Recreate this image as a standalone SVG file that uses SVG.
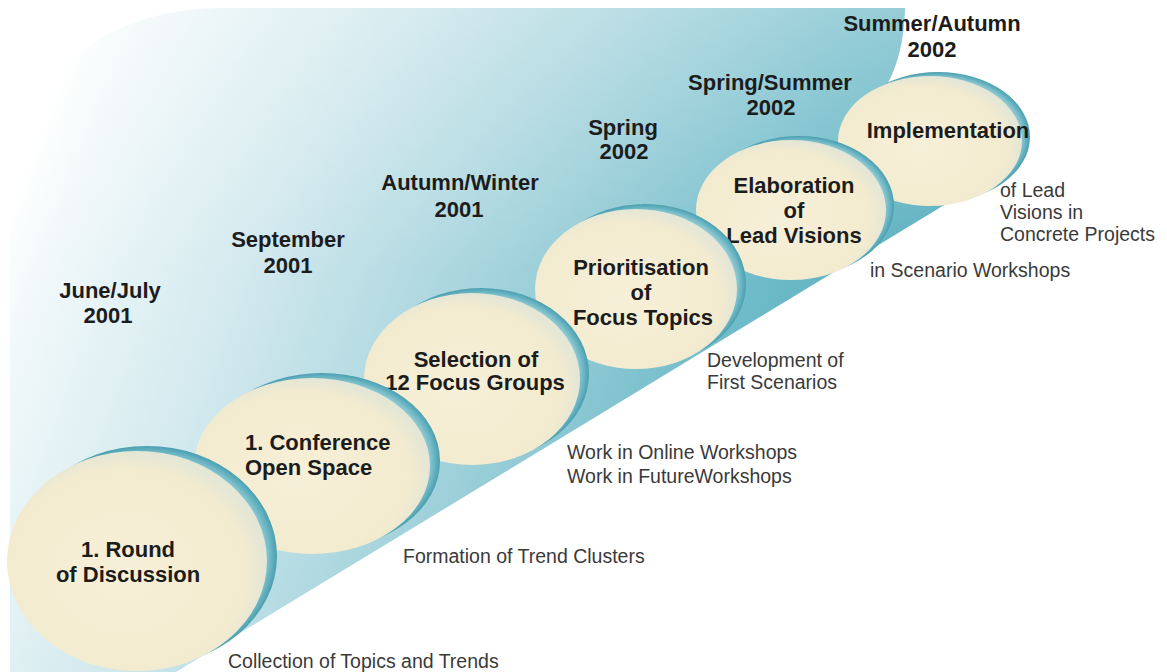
<svg xmlns="http://www.w3.org/2000/svg" width="1167" height="672" viewBox="0 0 1167 672">
  <defs>
    <linearGradient id="bg" x1="0" y1="0.3" x2="1" y2="0.55">
      <stop offset="0" stop-color="#ffffff"/>
      <stop offset="0.05" stop-color="#f2f9fa"/>
      <stop offset="0.25" stop-color="#d2e9ee"/>
      <stop offset="0.5" stop-color="#a2d2db"/>
      <stop offset="0.75" stop-color="#6dbac8"/>
      <stop offset="1" stop-color="#4fa8b8"/>
    </linearGradient>
    <linearGradient id="topfade" x1="0" y1="0" x2="0" y2="1">
      <stop offset="0" stop-color="#ffffff" stop-opacity="0.3"/>
      <stop offset="0.4" stop-color="#ffffff" stop-opacity="0"/>
    </linearGradient>
    <radialGradient id="face" cx="0.45" cy="0.55" r="0.55">
      <stop offset="0" stop-color="#f7f0d8"/>
      <stop offset="0.85" stop-color="#f3ebcf"/>
      <stop offset="1" stop-color="#e4e6d6"/>
    </radialGradient>
    <radialGradient id="rim" cx="0.5" cy="0.5" r="0.5">
      <stop offset="0.82" stop-color="#d3e9e8"/>
      <stop offset="0.94" stop-color="#74bbc8"/>
      <stop offset="1" stop-color="#4a9fb0"/>
    </radialGradient>
    <style>
      .face { fill: url(#face); }
      .rim { fill: url(#rim); }
      .lbl { font-family: "Liberation Sans", Arial, sans-serif; font-weight: bold; font-size: 22px; fill: #1c1c1c; text-anchor: middle; }
      .lblL { text-anchor: start; }
      .date { font-family: "Liberation Sans", Arial, sans-serif; font-weight: bold; font-size: 22px; fill: #1c1c1c; text-anchor: middle; }
      .note { font-family: "Liberation Sans", Arial, sans-serif; font-size: 19.5px; fill: #3a3a3a; }
    </style>
  </defs>

  <rect x="0" y="0" width="1167" height="672" fill="#ffffff"/>

  <!-- background sweep -->
  <g id="background">
    <path d="M 10,672 L 10,210 C 10,90 90,8 225,8 L 905,8 C 904,45 896,75 878,98 L 992,176 L 176,672 Z" fill="url(#bg)"/>
    <path d="M 10,672 L 10,210 C 10,90 90,8 225,8 L 905,8 C 904,45 896,75 878,98 L 992,176 L 176,672 Z" fill="url(#topfade)"/>
  </g>

  <!-- dates -->
  <g id="dates">
    <text class="date" x="110" y="298">June/July</text>
    <text class="date" x="108" y="323">2001</text>
    <text class="date" x="288" y="247">September</text>
    <text class="date" x="288" y="273">2001</text>
    <text class="date" x="460" y="190">Autumn/Winter</text>
    <text class="date" x="459" y="217">2001</text>
    <text class="date" x="623" y="135">Spring</text>
    <text class="date" x="624" y="159">2002</text>
    <text class="date" x="770" y="90">Spring/Summer</text>
    <text class="date" x="771" y="115">2002</text>
    <text class="date" x="932" y="31">Summer/Autumn</text>
    <text class="date" x="932" y="57">2002</text>
  </g>

  <g id="connectors"></g>

  <g id="node-implementation">
    <ellipse class="rim" cx="938" cy="137" rx="92" ry="65"/>
    <ellipse class="face" cx="930" cy="141" rx="92" ry="65"/>
    <text class="lbl" x="948" y="138">Implementation</text>
  </g>

  <g id="node-elaboration">
    <ellipse class="rim" cx="799" cy="206" rx="95" ry="70"/>
    <ellipse class="face" cx="791" cy="210" rx="95" ry="70"/>
    <text class="lbl" x="794" y="193">Elaboration</text>
    <text class="lbl" x="794" y="218">of</text>
    <text class="lbl" x="794" y="243">Lead Visions</text>
  </g>

  <g id="node-prioritisation">
    <ellipse class="rim" cx="645" cy="284" rx="101" ry="80"/>
    <ellipse class="face" cx="636" cy="289" rx="101" ry="80"/>
    <text class="lbl" x="641" y="275">Prioritisation</text>
    <text class="lbl" x="641" y="300">of</text>
    <text class="lbl" x="643" y="325">Focus Topics</text>
  </g>

  <g id="node-selection">
    <ellipse class="rim" cx="481" cy="374" rx="108" ry="86"/>
    <ellipse class="face" cx="472" cy="379" rx="108" ry="86"/>
    <text class="lbl" x="476" y="367">Selection of</text>
    <text class="lbl" x="475" y="390">12 Focus Groups</text>
  </g>

  <g id="node-conference">
    <ellipse class="rim" cx="322" cy="461" rx="118" ry="88"/>
    <ellipse class="face" cx="312" cy="466" rx="118" ry="88"/>
    <text class="lbl lblL" x="245" y="450">1. Conference</text>
    <text class="lbl lblL" x="245" y="475">Open Space</text>
  </g>

  <g id="node-round">
    <ellipse class="rim" cx="147" cy="556" rx="130" ry="110"/>
    <ellipse class="face" cx="137" cy="561" rx="130" ry="110"/>
    <text class="lbl" x="128" y="557">1. Round</text>
    <text class="lbl" x="128" y="582">of Discussion</text>
  </g>

  <!-- descriptions -->
  <g id="notes">
    <text class="note" x="228" y="668">Collection of Topics and Trends</text>
    <text class="note" x="403" y="563">Formation of Trend Clusters</text>
    <text class="note" x="567" y="459">Work in Online Workshops</text>
    <text class="note" x="567" y="483">Work in FutureWorkshops</text>
    <text class="note" x="707" y="367">Development of</text>
    <text class="note" x="707" y="389">First Scenarios</text>
    <text class="note" x="870" y="277">in Scenario Workshops</text>
    <text class="note" x="1000" y="197">of Lead</text>
    <text class="note" x="1000" y="219">Visions in</text>
    <text class="note" x="1000" y="241">Concrete Projects</text>
  </g>
</svg>
